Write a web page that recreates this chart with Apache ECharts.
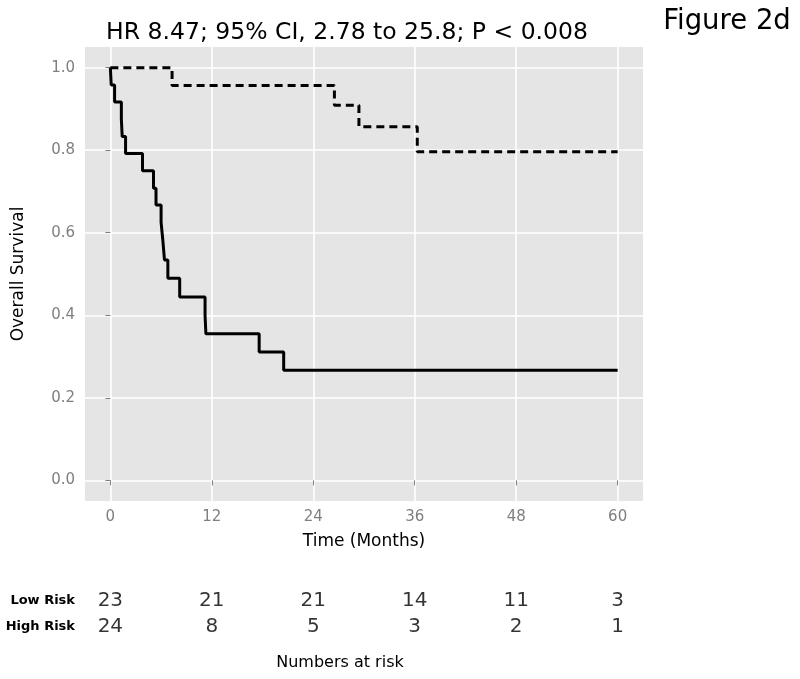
<!DOCTYPE html>
<html>
<head>
<meta charset="utf-8">
<script src="https://cdn.jsdelivr.net/npm/echarts@6/dist/echarts.min.js"></script>
<style>html,body{margin:0;padding:0;background:#fff}#c{width:800px;height:679px}</style>
</head>
<body>
<div id="c"></div>
<script>
// ---- data ----
const highRiskTime = [0, 0.1, 0.5, 1.3, 1.4, 1.8, 3.8, 5.1, 5.4, 6.0, 6.2, 6.4, 6.8, 8.2, 11.2, 11.3, 17.6, 20.5, 60];
const highRiskSurv = [1, 0.958, 0.917, 0.875, 0.833, 0.792, 0.75, 0.708, 0.667, 0.625, 0.583, 0.534, 0.49, 0.444, 0.40, 0.355, 0.311, 0.267, 0.267];
const lowRiskTime = [0, 7.3, 26.5, 29.4, 36.3, 60];
const lowRiskSurv = [1, 0.957, 0.909, 0.857, 0.796, 0.796];
const xTicks = [0, 12, 24, 36, 48, 60];
const yTicks = [0, 0.2, 0.4, 0.6, 0.8, 1.0];
const riskGroups = ['Low Risk', 'High Risk'];
const riskTimes = [0, 12, 24, 36, 48, 60];
const lowRiskAtRisk = [23, 21, 21, 14, 11, 3];
const highRiskAtRisk = [24, 8, 5, 3, 2, 1];
const titleText = 'HR 8.47; 95% CI, 2.78 to 25.8; P < 0.008';
const figLabel = 'Figure 2d';

const FONT = 'DejaVu Sans';
const chart = echarts.init(document.getElementById('c'), null, {renderer: 'canvas'});

const pairs = (xs, ys) => xs.map((x, i) => [x, ys[i]]);
const riskData = [];
riskTimes.forEach((t, i) => {
  riskData.push([t, riskGroups[0], lowRiskAtRisk[i]]);
  riskData.push([t, riskGroups[1], highRiskAtRisk[i]]);
});

chart.setOption({
  animation: false,
  backgroundColor: '#fff',
  textStyle: {fontFamily: FONT},
  grid: [
    {left: 85, right: 157, top: 47, bottom: 178, show: true, backgroundColor: '#E5E5E5', borderWidth: 0, containLabel: false},
    {left: 85, right: 157, top: 588, height: 52, show: false, containLabel: false}
  ],
  xAxis: [
    {
      type: 'value', gridIndex: 0, min: -3, max: 63,
      axisLine: {show: false},
      axisTick: {show: true, length: 5, lineStyle: {color: '#7F7F7F', width: 1}, customValues: xTicks},
      axisLabel: {show: true, color: '#7F7F7F', fontSize: 15, fontFamily: FONT, margin: 9, customValues: xTicks},
      splitLine: {show: true, lineStyle: {color: '#FFFFFF', width: 1.6}},
      name: 'Time (Months)', nameLocation: 'middle', nameGap: 32,
      nameTextStyle: {color: '#000', fontSize: 17, fontFamily: FONT}
    },
    {
      type: 'value', gridIndex: 1, min: -3, max: 63, show: false,
      splitLine: {show: false}
    }
  ],
  yAxis: [
    {
      type: 'value', gridIndex: 0, min: -0.05, max: 1.05,
      axisLine: {show: false},
      axisTick: {show: true, length: 5, lineStyle: {color: '#7F7F7F', width: 1}, customValues: yTicks},
      axisLabel: {show: true, color: '#7F7F7F', fontSize: 15, fontFamily: FONT, margin: 10, customValues: yTicks,
        formatter: v => v.toFixed(1)},
      splitLine: {show: true, lineStyle: {color: '#FFFFFF', width: 1.6}},
      name: 'Overall Survival', nameLocation: 'middle', nameGap: 58, nameRotate: 90,
      nameTextStyle: {color: '#000', fontSize: 17, fontFamily: FONT}
    },
    {
      type: 'category', gridIndex: 1, data: riskGroups, inverse: true,
      axisLine: {show: false}, axisTick: {show: false}, splitLine: {show: false},
      axisLabel: {color: '#000', fontWeight: 'bold', fontSize: 13, fontFamily: FONT, margin: 10}
    }
  ],
  series: [
    {
      name: 'Low Risk', type: 'line', xAxisIndex: 0, yAxisIndex: 0, step: 'end',
      data: pairs(lowRiskTime, lowRiskSurv), showSymbol: false, symbol: 'none',
      lineStyle: {color: '#000', width: 3, type: [8, 5]}
    },
    {
      name: 'High Risk', type: 'line', xAxisIndex: 0, yAxisIndex: 0, step: 'end',
      data: pairs(highRiskTime, highRiskSurv), showSymbol: false, symbol: 'none',
      lineStyle: {color: '#000', width: 3}
    },
    {
      name: 'At risk', type: 'scatter', xAxisIndex: 1, yAxisIndex: 1,
      data: riskData, symbolSize: 0, silent: true,
      label: {show: true, position: 'inside', formatter: p => String(p.data[2]),
        color: '#000', fontSize: 20, fontFamily: FONT}
    }
  ],
  graphic: [
    {type: 'text', x: 347, y: 33, style: {text: titleText, fontSize: 23.5, fontFamily: FONT, fill: '#000', textAlign: 'center', textVerticalAlign: 'middle'}},
    {type: 'text', x: 727, y: 22, style: {text: figLabel, fontSize: 27.5, fontFamily: FONT, fill: '#000', textAlign: 'center', textVerticalAlign: 'middle'}},
    {type: 'text', x: 340, y: 663, style: {text: 'Numbers at risk', fontSize: 16, fontFamily: FONT, fill: '#000', textAlign: 'center', textVerticalAlign: 'middle'}}
  ]
});
</script>
</body>
</html>
